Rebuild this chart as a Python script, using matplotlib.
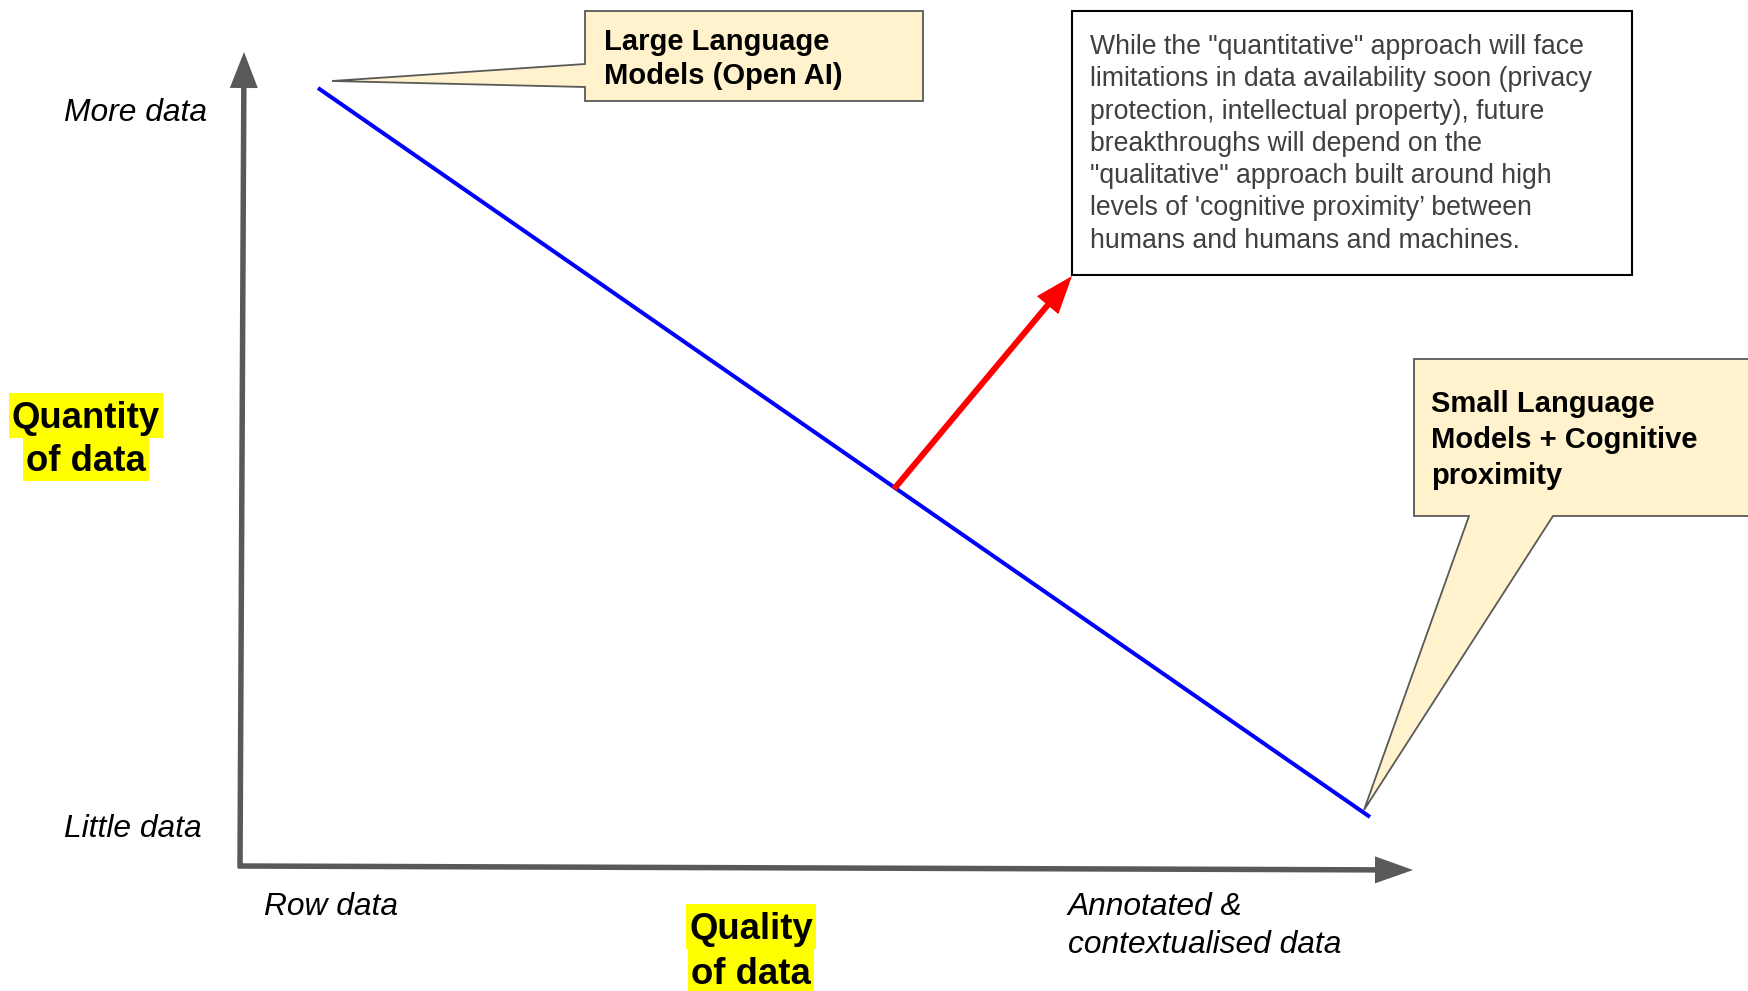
import matplotlib
matplotlib.use('Agg')
import matplotlib.pyplot as plt
from matplotlib.patches import Polygon, Rectangle

W, H = 1748, 991
FONT = 'Liberation Sans'

# ---- content ----
y_axis_labels = ['More data', 'Little data']
x_axis_labels = ['Row data', 'Annotated &', 'contextualised data']
y_axis_title = ['Quantity', 'of data']
x_axis_title = ['Quality', 'of data']
llm_label = ['Large Language', 'Models (Open AI)']
slm_label = ['Small Language', 'Models + Cognitive', 'proximity']
note_lines = [
    'While the "quantitative" approach will face',
    'limitations in data availability soon (privacy',
    'protection, intellectual property), future',
    'breakthroughs will depend on the',
    '"qualitative" approach built around high',
    "levels of 'cognitive proximity\u2019 between",
    'humans and humans and machines.',
]
# trade-off line (quality -> quantity), in canvas pixels
tradeoff_x = [318, 1370]
tradeoff_y = [88, 817]
# shift arrow
shift_x = [894, 1072]
shift_y = [489, 276]

fig = plt.figure(figsize=(W / 100, H / 100), dpi=100)
ax = fig.add_axes([0, 0, 1, 1])
ax.set_xlim(0, W)
ax.set_ylim(H, 0)
ax.axis('off')

AXC = '#595959'
# axes arrows
ax.arrow(240, 868, 4, -816, width=5.5, head_width=28, head_length=36,
         length_includes_head=True, fc=AXC, ec=AXC, lw=0, zorder=2)
ax.arrow(238, 866, 1175, 4, width=5.5, head_width=27, head_length=38,
         length_includes_head=True, fc=AXC, ec=AXC, lw=0, zorder=2)

# trade-off line
ax.plot(tradeoff_x, tradeoff_y, color='#0000FF', lw=2.9, solid_capstyle='butt', zorder=3)

# red shift arrow
ax.arrow(shift_x[0], shift_y[0], shift_x[1] - shift_x[0], shift_y[1] - shift_y[0],
         width=6, head_width=28, head_length=38, length_includes_head=True,
         fc='#FF0000', ec='#FF0000', lw=0, zorder=4)

# note box
ax.add_patch(Rectangle((1072, 11), 560, 264, fc='white', ec='black', lw=1.5, zorder=3))
for i, line in enumerate(note_lines):
    yc = 44.6 + i * 32.2
    ax.text(1090, yc + 9.7, line, fontsize=19.2, family=FONT, color='#404040',
            ha='left', va='baseline', zorder=5)

# callouts
CALLF = '#FFF2CC'
llm_poly = [(585, 11), (923, 11), (923, 101), (585, 101), (585, 87), (332, 81), (585, 64)]
ax.add_patch(Polygon(llm_poly, closed=True, fc=CALLF, ec=AXC, lw=1.3, zorder=5))
for i, line in enumerate(llm_label):
    ax.text(604, 39 + i * 35 + 10.5, line, fontsize=21, family=FONT, weight='bold',
            color='black', ha='left', va='baseline', zorder=6)

slm_poly = [(1414, 359), (1765, 359), (1765, 516), (1553, 516), (1364, 810),
            (1469, 516), (1414, 516)]
ax.add_patch(Polygon(slm_poly, closed=True, fc=CALLF, ec=AXC, lw=1.3, zorder=5))
for i, line in enumerate(slm_label):
    ax.text(1431, 402 + i * 36 + 10.5, line, fontsize=21, family=FONT, weight='bold',
            color='black', ha='left', va='baseline', zorder=6)

# italic axis end labels
ital = dict(fontsize=22.9, family=FONT, style='italic', color='black',
            ha='left', va='baseline', zorder=6)
ax.text(64, 110 + 11.2, y_axis_labels[0], **ital)
ax.text(64, 826 + 11.2, y_axis_labels[1], **ital)
ax.text(264, 904 + 11.2, x_axis_labels[0], **ital)
ax.text(1068, 904 + 11.2, x_axis_labels[1], **ital)
ax.text(1068, 942 + 11.2, x_axis_labels[2], **ital)

# highlighted titles
titles = []
for lines, cx, cys in [(y_axis_title, 86, [415, 458]), (x_axis_title, 751, [926, 971])]:
    for line, cy in zip(lines, cys):
        t = ax.text(cx, cy + 13, line, fontsize=26.3, family=FONT, weight='bold',
                    color='black', ha='center', va='baseline', zorder=7)
        titles.append((t, cy))

fig.canvas.draw()
renderer = fig.canvas.get_renderer()
inv = ax.transData.inverted()
for t, cy in titles:
    bb = t.get_window_extent(renderer).transformed(inv)
    x0, x1 = min(bb.x0, bb.x1), max(bb.x0, bb.x1)
    ax.add_patch(Rectangle((x0 - 3, cy - 22.5), (x1 - x0) + 6, 45,
                           fc='#FFFF00', ec='none', zorder=6))

fig.savefig('out.png', dpi=100)
